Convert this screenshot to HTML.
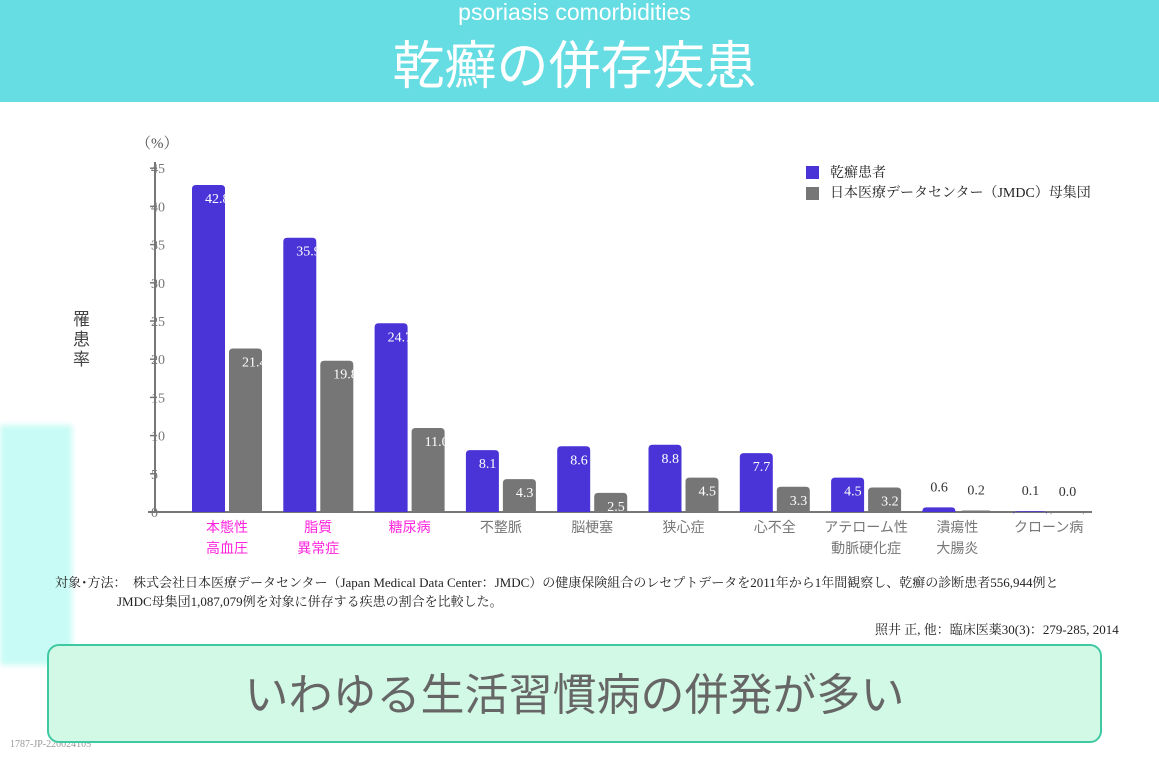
<!DOCTYPE html>
<html><head><meta charset="utf-8"><style>
body{margin:0;width:1159px;height:763px;overflow:hidden;background:#fff;font-family:"Liberation Serif","Noto Serif CJK SC",serif;position:relative}
#hdr{position:absolute;left:0;top:0;width:1159px;height:102px;background:#66dde3}
.sub{position:absolute;top:-1px;width:1159px;text-align:center;color:#fff;font:23px "Liberation Sans",sans-serif;left:-5px}
.ttl{position:absolute;top:24px;width:1159px;text-align:center;color:#fff;font:52px "Noto Sans CJK JP",sans-serif;left:-5px}
#deco{position:absolute;left:0;top:425px;width:72px;height:240px;background:#c8fbf5;filter:blur(3px)}
.note{position:absolute;font-size:13px;color:#222}
#box{position:absolute;left:47px;top:644px;width:1051px;height:95px;background:#d2f9e6;border:2px solid #3fc9a3;border-radius:12px;text-align:center;font:44px/91px "Noto Sans CJK JP",sans-serif;color:#666}
</style></head><body>
<div id="hdr"></div>
<div class="sub">psoriasis comorbidities</div>
<div class="ttl">乾癬の併存疾患</div>
<div id="deco"></div>
<svg id="chart" width="1159" height="763" style="position:absolute;left:0;top:0"></svg>
<div class="note" style="left:55px;top:572px">対象･方法：　株式会社日本医療データセンター（Japan Medical Data Center：JMDC）の健康保険組合のレセプトデータを2011年から1年間観察し、乾癬の診断患者556,944例と</div>
<div class="note" style="left:117px;top:591px">JMDC母集団1,087,079例を対象に併存する疾患の割合を比較した。</div>
<div class="note" style="left:875px;top:619px">照井 正, 他：臨床医薬30(3)：279-285, 2014</div>
<div class="note" style="left:10px;top:739px;font-size:10px;color:#999">1787-JP-220024105</div>
<div id="box">いわゆる生活習慣病の併発が多い</div>
<script>
const categories=[["本態性","高血圧"],["脂質","異常症"],["糖尿病"],["不整脈"],["脳梗塞"],["狭心症"],["心不全"],["アテローム性","動脈硬化症"],["潰瘍性","大腸炎"],["クローン病"]];
const highlight=[true,true,true,false,false,false,false,false,false,false];
const psoriasis=[42.8,35.9,24.7,8.1,8.6,8.8,7.7,4.5,0.6,0.1];
const population=[21.4,19.8,11.0,4.3,2.5,4.5,3.3,3.2,0.2,0.0];
const ticks=[0,5,10,15,20,25,30,35,40,45];
const svg=document.getElementById('chart');const NS='http://www.w3.org/2000/svg';
function y(v){return 512-v*7.64}
function x(i){return 192+i*91.3}
function mk(t,a,txt){const e=document.createElementNS(NS,t);for(const k in a)e.setAttribute(k,a[k]);if(txt!==undefined)e.textContent=txt;svg.appendChild(e);return e}
const defs=mk('defs',{});
let e=mk('line',{x1:155,y1:162,x2:155,y2:512,stroke:'#777','stroke-width':2});


e=mk('line',{x1:148,y1:512,x2:1092,y2:512,stroke:'#777','stroke-width':2});


ticks.forEach(t=>{mk('line',{x1:150,x2:157,y1:y(t),y2:y(t),stroke:'#777','stroke-width':1.5});
e=mk('text',{x:151,y:y(t)+5,'font-size':14,fill:'#777'},t);

});
e=mk('text',{x:136,y:148,'font-size':15,fill:'#555'},'（%）');


['罹','患','率'].forEach((c,i)=>{e=mk('text',{x:73,y:325+i*20,'font-size':17,fill:'#444','font-family':'Noto Sans CJK JP'},c);

});
function bar(i,v,off,col,name){const bx=x(i)+off,by=y(v),h=512-by;
const r=mk('path',{d:`M${bx},512 V${by+4} Q${bx},${by} ${bx+4},${by} H${bx+29} Q${bx+33},${by} ${bx+33},${by+4} V512 Z`,fill:col});


if(h>12){const id='c'+name+i;const cp=document.createElementNS(NS,'clipPath');cp.setAttribute('id',id);const cr=document.createElementNS(NS,'rect');cr.setAttribute('x',bx);cr.setAttribute('y',by);cr.setAttribute('width',33);cr.setAttribute('height',h);cp.appendChild(cr);defs.appendChild(cp);
const t=mk('text',{x:bx+13,y:by+18,'font-size':14,fill:'#fff','clip-path':`url(#${id})`},v.toFixed(1));

}
else{const t=mk('text',{x:bx+8,y:by-16,'font-size':14,fill:'#333'},v.toFixed(1));

}}
categories.forEach((c,i)=>{bar(i,psoriasis[i],0,'#4a34d8','bar-psoriasis');bar(i,population[i],37,'#767676','bar-population');
c.forEach((s,j)=>{const t=mk('text',{x:x(i)+35,y:532+j*21,'font-size':14,'text-anchor':'middle',fill:highlight[i]?'#ff22dd':'#777','font-family':'Noto Sans CJK JP'},s);

});});
e=mk('rect',{x:806,y:166,width:13,height:13,fill:'#4a34d8'});


e=mk('text',{x:830,y:177,'font-size':14,fill:'#222'},'乾癬患者');


e=mk('rect',{x:806,y:187,width:13,height:13,fill:'#767676'});


e=mk('text',{x:830,y:197,'font-size':14,fill:'#222'},'日本医療データセンター（JMDC）母集団');


</script>
</body></html>
